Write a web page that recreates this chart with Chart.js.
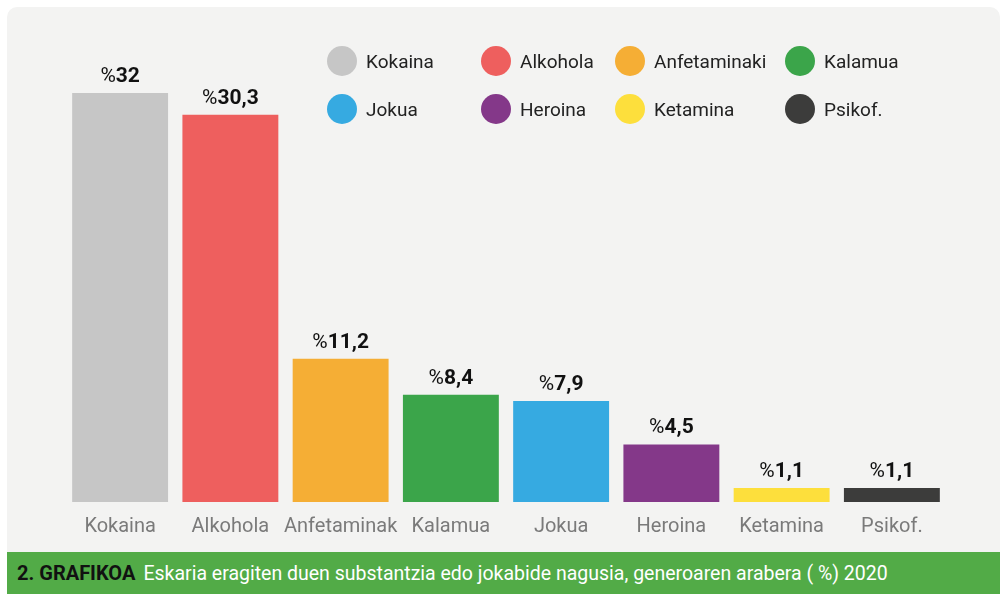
<!DOCTYPE html>
<html>
<head>
<meta charset="utf-8">
<script src="https://cdn.jsdelivr.net/npm/chart.js@4.4.1/dist/chart.umd.min.js"></script>
<style>
  body { margin: 0; background: #fff; font-family: Roboto, "Noto Sans", sans-serif; }
  #wrap { position: relative; width: 1002px; height: 595px; overflow: hidden; }
  #card { position: absolute; left: 7px; top: 7px; width: 993px; height: 570px; background: #f3f3f2; border-radius: 10px; }
  #chart-box { position: absolute; left: 0; top: 0; width: 1002px; height: 555px; }
  #legend { position: absolute; left: 327px; top: 37px; display: grid; grid-template-columns: 154px 134px 170px auto; grid-auto-rows: 48px; }
  .legend-item { display: flex; align-items: center; font-size: 19px; color: #222; }
  .legend-dot { width: 30px; height: 30px; border-radius: 50%; margin-right: 9px; }
  #caption { position: absolute; left: 7px; top: 552px; width: 993px; height: 42px; background: #52ab47; line-height: 42px; font-size: 19.5px; color: #fff; padding-left: 10px; box-sizing: border-box; white-space: nowrap; }
  #caption b { color: #111; margin-right: 8px; font-size: 20px; }
</style>
</head>
<body>
<div id="wrap">
  <div id="card"></div>
  <div id="chart-box"><canvas id="bar-chart" width="1002" height="555"></canvas></div>
  <div id="legend"></div>
  <div id="caption"><b>2. GRAFIKOA</b>Eskaria eragiten duen substantzia edo jokabide nagusia, generoaren arabera ( %) 2020</div>
</div>
<script>
const categories = ["Kokaina", "Alkohola", "Anfetaminak", "Kalamua", "Jokua", "Heroina", "Ketamina", "Psikof."];
const legendLabels = ["Kokaina", "Alkohola", "Anfetaminaki", "Kalamua", "Jokua", "Heroina", "Ketamina", "Psikof."];
const values = [32, 30.3, 11.2, 8.4, 7.9, 4.5, 1.1, 1.1];
const colors = ["#c6c6c6", "#ee5f5e", "#f5ae35", "#3ba54a", "#36aae1", "#843889", "#fddf3c", "#3c3c3b"];

// legend (html)
const legend = document.getElementById("legend");
legendLabels.forEach((label, i) => {
  const item = document.createElement("div");
  item.className = "legend-item";
  item.innerHTML = `<span class="legend-dot" style="background:${colors[i]}"></span>${label}`;
  legend.appendChild(item);
});

// "%" + number above each bar
const valueLabels = {
  id: "valueLabels",
  afterDatasetsDraw(chart) {
    const ctx = chart.ctx;
    const meta = chart.getDatasetMeta(0);
    ctx.save();
    ctx.fillStyle = "#111";
    ctx.textBaseline = "alphabetic";
    ctx.textAlign = "left";
    meta.data.forEach((bar, i) => {
      const num = String(values[i]).replace(".", ",");
      ctx.font = "400 21px Roboto";
      const pw = ctx.measureText("%").width;
      ctx.font = "700 21px Roboto";
      const nw = ctx.measureText(num).width;
      const x0 = bar.x - (pw + nw) / 2;
      const y = bar.y - 11;
      ctx.font = "400 21px Roboto";
      ctx.fillText("%", x0, y);
      ctx.font = "700 21px Roboto";
      ctx.fillText(num, x0 + pw, y);
    });
    ctx.restore();
  },
};

const ctx = document.getElementById("bar-chart").getContext("2d");
new Chart(ctx, {
  type: "bar",
  data: {
    labels: categories,
    datasets: [
      {
        data: values,
        backgroundColor: colors,
        borderWidth: 0,
        barPercentage: 0.87,
        categoryPercentage: 1,
      },
    ],
  },
  options: {
    responsive: false,
    animation: false,
    maintainAspectRatio: false,
    layout: { padding: { left: 65, right: 55, top: 93, bottom: 3 } },
    plugins: { legend: { display: false }, tooltip: { enabled: false } },
    scales: {
      y: { display: false, min: 0, max: 32 },
      x: {
        grid: { display: false, drawTicks: false },
        border: { display: false },
        ticks: { color: "#7a7a7a", font: { family: "Roboto", size: 20 }, padding: 13, maxRotation: 0, autoSkip: false },
      },
    },
  },
  plugins: [valueLabels],
});
</script>
</body>
</html>
